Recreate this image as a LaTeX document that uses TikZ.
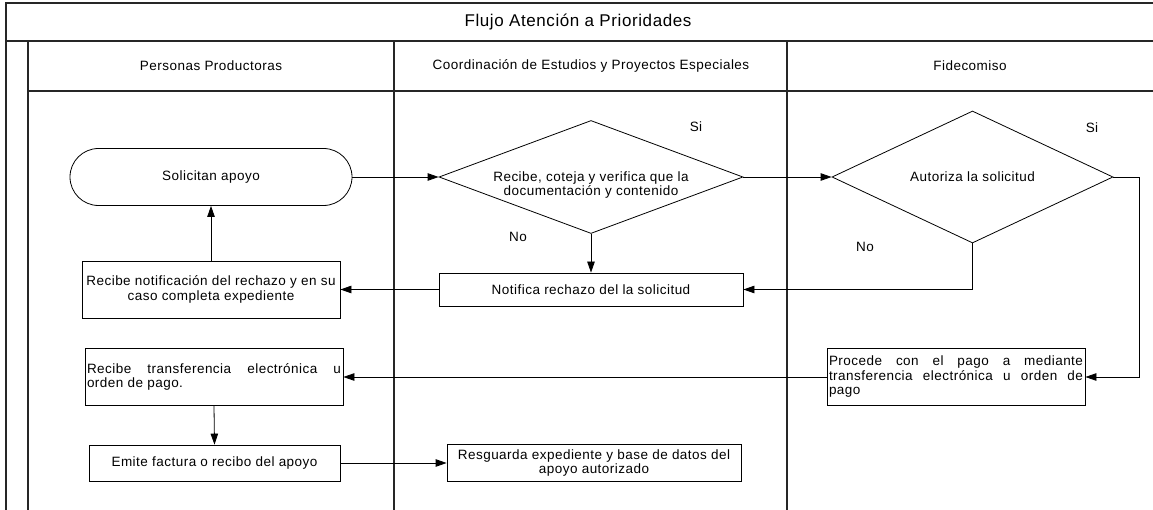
\documentclass[tikz,border=0pt]{standalone}
\usepackage{fontspec}
\setmainfont[LetterSpace=3.5]{Liberation Sans}
\usetikzlibrary{shapes.geometric,arrows.meta}
\begin{document}
\begin{tikzpicture}[x=1pt,y=-1pt,
  every node/.style={font=\fontsize{13.5}{14.5}\selectfont},
  frame/.style={line width=1.1pt, draw=black!85},
  box/.style={draw, line width=0.8pt, align=center, inner sep=2pt},
  jbox/.style={draw, line width=0.8pt, align=justify, text width=254pt, inner sep=2pt, minimum height=57pt},
  term/.style={draw, line width=0.8pt, rounded corners=28.5pt, minimum width=282pt, minimum height=57pt},
  dia/.style={draw, line width=0.8pt, shape=diamond, align=center, inner sep=0pt},
  arr/.style={-{Triangle[length=11pt,width=7.5pt]}, line width=0.8pt},
  lbl/.style={inner sep=0pt, align=center}]
\useasboundingbox (0,0) rectangle (1153,510);
% frame
\draw[frame] (1153,3) -- (6,3) -- (6,510);
\draw[frame] (6,41) -- (1153,41);
\draw[frame] (28,41) -- (28,510);
\draw[frame] (28,91) -- (1153,91);
\draw[frame] (394,41) -- (394,510);
\draw[frame] (787,41) -- (787,510);
% headings
\node[lbl, font=\fontsize{17}{19}\selectfont] (title) at (578,22) {Flujo Atención a Prioridades};
\node[lbl] (h1) at (211,66) {Personas Productoras};
\node[lbl] (h2) at (591,66) {Coordinación de Estudios y Proyectos Especiales};
\node[lbl] (h3) at (970,66) {Fidecomiso};
% nodes
\node[term] (sol) at (211,177) {Solicitan apoyo};
\node[box, minimum width=258pt, minimum height=57pt] (rnot) at (211,289.5) {Recibe notificación del rechazo y en su\\caso completa expediente};
\node[jbox] (rtra) at (214,377) {Recibe transferencia electrónica u\linebreak orden de pago.};
\node[box, minimum width=251pt, minimum height=36pt] (emi) at (214.5,463) {Emite factura o recibo del apoyo};
\node[dia, minimum width=304pt, minimum height=113pt] (d1) at (591,177) {};
\node[lbl] (d1t) at (591,185) {Recibe, coteja y verifica que la\\documentación y contenido};
\node[box, minimum width=304pt, minimum height=33pt] (notif) at (591,289.5) {Notifica rechazo del la solicitud};
\node[box, minimum width=294pt, minimum height=37pt] (resg) at (594,463) {Resguarda expediente y base de datos del\\apoyo autorizado};
\node[dia, aspect=2.13, minimum width=281pt, minimum height=132pt] (d2) at (972.5,177) {Autoriza la solicitud};
\node[jbox] (proc) at (956,377) {Procede con el pago a mediante\linebreak transferencia electrónica u orden de\linebreak pago};
% labels
\node[lbl] (si1) at (696,127) {Si};
\node[lbl] (no1) at (518,237) {No};
\node[lbl] (si2) at (1092,128) {Si};
\node[lbl] (no2) at (865,247) {No};
% connectors
\coordinate (c1) at (1139,177);
\draw[arr] (sol.east) -- (d1.west);
\draw[arr] (d1.east) -- (d2.west);
\draw[arr] (d1.south) -- (notif.north);
\draw[arr] (notif.west) -- (rnot.east);
\draw[arr] (rnot.north) -- (sol.south);
\draw[arr] (d2.south) |- (notif.east);
\draw[arr] (d2.east) -- (c1) |- (proc.east);
\draw[arr] (proc.west) -- (rtra.east);
\draw[arr] (rtra.south) -- (emi.north);
\draw[arr] (emi.east) -- (resg.west);
\end{tikzpicture}
\end{document}
